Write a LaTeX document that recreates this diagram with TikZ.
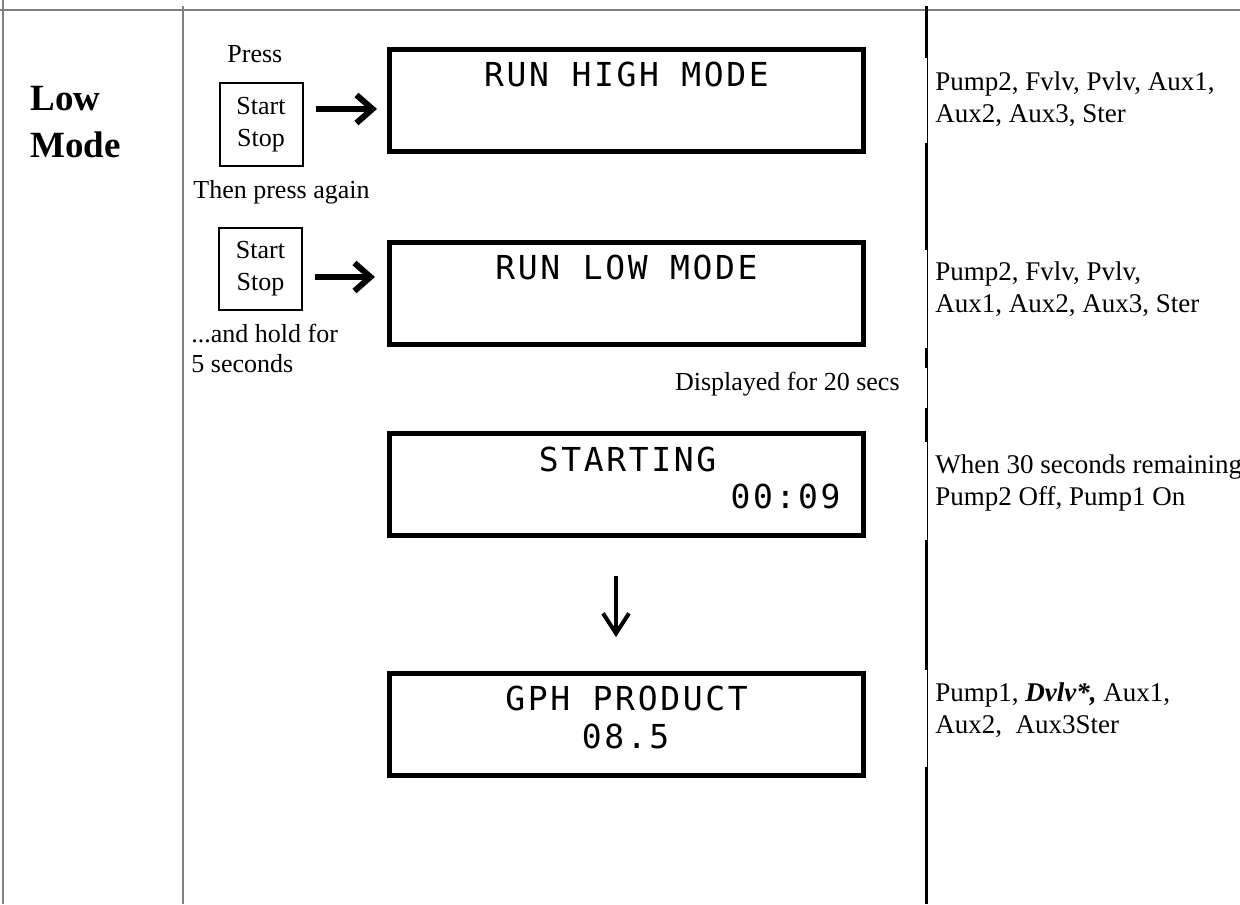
\documentclass[tikz,border=0pt]{standalone}
\usepackage{fontspec}
\setmainfont{Liberation Serif}
\newfontfamily\lcdfont[LetterSpace=8]{DejaVu Sans Mono}
\usetikzlibrary{arrows.meta,positioning}

\begin{document}
\begin{tikzpicture}
  [x=0.5pt,y=-0.5pt,
  tableline/.style={draw=black!50,line width=1pt},
  colline/.style={line width=1.5pt},
  boxline/.style={line width=0.5pt},
  button/.style={rectangle,draw,line width=1pt,minimum width=41.5pt,minimum height=41pt,inner sep=0pt,align=center,font=\fontsize{13}{16}\selectfont},
  lcd/.style={rectangle,draw,line width=2.5pt,minimum width=237pt,minimum height=51pt,inner sep=0pt},
  lcdtext/.style={font=\lcdfont\fontsize{16.5}{20}\selectfont,anchor=base,inner sep=0pt},
  note/.style={font=\fontsize{13}{15}\selectfont,align=left,anchor=base west,inner sep=0pt},
  outs/.style={note,font=\fontsize{13.5}{15.75}\selectfont},
  push/.style={-{Straight Barb[length=8pt,width=14pt]},line width=3pt},
  flow/.style={-{Straight Barb[length=10pt,width=13pt]},line width=2pt}]

\useasboundingbox (0,0) rectangle (1240,904);

% table rules
\draw[tableline] (0,10) -- (1240,10);
\draw[tableline] (2.5,0) -- (2.5,904);
\draw[tableline] (183,6) -- (183,904);
\foreach \a/\b in {6/58,143/250,348/368,408/442,540/670,767/904}
  \draw[colline] (926.5,\a) -- (926.5,\b);
\foreach \a/\b in {58/143,250/348,368/408,442/540,670/767}
  \draw[boxline] (927.5,\a) -- (927.5,\b);

% mode title (base = last line)
\node[font=\bfseries\fontsize{18.5}{23.5}\selectfont,align=left,anchor=base west,inner sep=0pt] (mode) at (30,157) {Low\\Mode};

% key presses
\node[note] (press) at (227,62) {Press};
\node[button] (keyA) at (261,124.5) {Start\\Stop};
\node[note] (again) at (193,198) {Then press again};
\node[button] (keyB) at (260.5,268.5) {Start\\Stop};
\node[note] (hold) at (191,372) {...and hold for\\5 seconds};

% displays
\node[lcd] (high) at (626.5,100.5) {};
\node[lcd] (low) at (626.5,293) {};
\node[lcd] (starting) at (626.5,484) {};
\node[lcd] (gph) at (626.5,724.5) {};

\node[lcdtext] (high-l1) at (626.5,87) {RUN HIGH MODE};
\node[lcdtext] (low-l1) at (626.5,279) {RUN LOW MODE};
\node[lcdtext] (starting-l1) at (627.5,471) {STARTING};
\node[lcdtext] (starting-l2) at (785.5,508) {00:09};
\node[lcdtext] (gph-l1) at (626.5,710) {GPH PRODUCT};
\node[lcdtext] (gph-l2) at (625.5,748) {08.5};

\node[note,anchor=base east] (shown) at (900,390) {Displayed for 20 secs};

% outputs
\node[outs] (outs-high) at (935,122) {Pump2, Fvlv, Pvlv, Aux1,\\Aux2, Aux3, Ster};
\node[outs] (outs-low) at (935,312) {Pump2, Fvlv, Pvlv,\\Aux1, Aux2, Aux3, Ster};
\node[outs] (outs-start) at (935,505) {When 30 seconds remaining,\\Pump2 Off, Pump1 On};
\node[outs] (outs-gph) at (935,733) {Pump1, \textbf{\textit{Dvlv*,}} Aux1,\\Aux2,\ \ Aux3Ster};

\draw[push,shorten <=6pt,shorten >=5pt] ([yshift=7.75pt]keyA.east) -- ([yshift=7.75pt]keyA.east -| high.west);
\draw[push,shorten <=6pt,shorten >=6pt] ([yshift=-4.25pt]keyB.east) -- ([yshift=-4.25pt]keyB.east -| low.west);
\draw[flow,shorten <=19pt,shorten >=17pt] ([xshift=-5.25pt]starting.south) -- ([xshift=-5.25pt]gph.north);

\end{tikzpicture}
\end{document}
